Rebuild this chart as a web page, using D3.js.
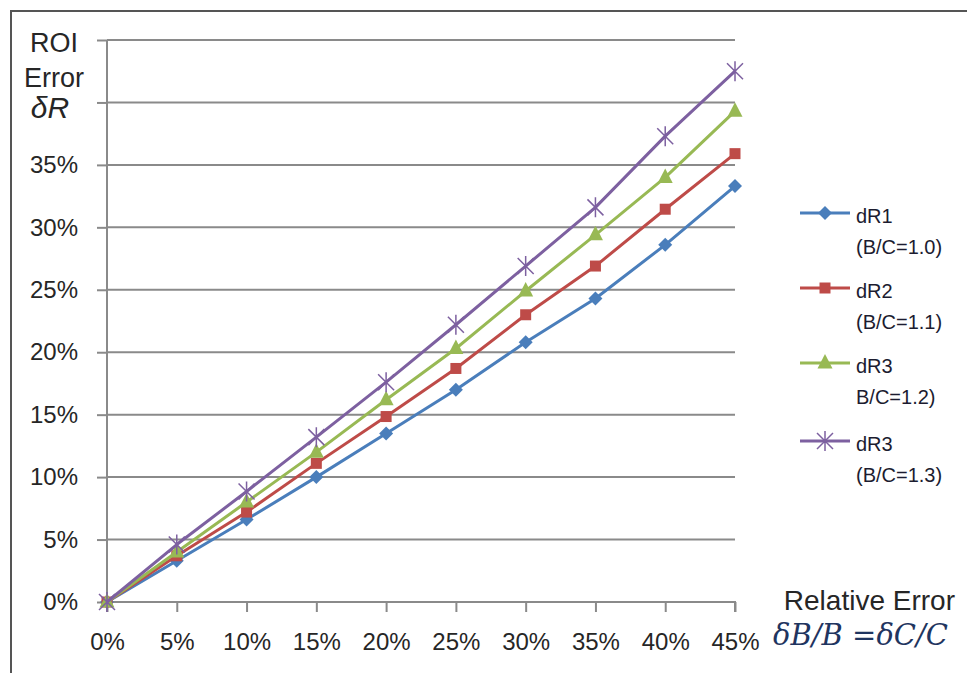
<!DOCTYPE html>
<html>
<head>
<meta charset="utf-8">
<script src="https://cdn.jsdelivr.net/npm/d3@7"></script>
<style>
  html, body { margin: 0; padding: 0; background: #fff; }
  svg { display: block; }
</style>
</head>
<body>
<svg id="chart" width="967" height="673"></svg>
<script>
// ---- data (percent) ----
const xValues = [0, 5, 10, 15, 20, 25, 30, 35, 40, 45];
const dR1 = [0, 3.3, 6.6, 10.0, 13.5, 17.0, 20.8, 24.3, 28.6, 33.3];
const dR2 = [0, 3.7, 7.2, 11.1, 14.85, 18.7, 23.0, 26.9, 31.45, 35.9];
const dR3 = [0, 4.0, 8.0, 12.0, 16.2, 20.3, 24.9, 29.4, 34.0, 39.3];
const dR4 = [0, 4.6, 8.85, 13.2, 17.6, 22.2, 26.9, 31.6, 37.3, 42.5];
const seriesNames = ["dR1", "dR2", "dR3", "dR3"];
const seriesSubs = ["(B/C=1.0)", "(B/C=1.1)", "B/C=1.2)", "(B/C=1.3)"];
const seriesColors = ["#4a7ebb", "#be4b48", "#98b954", "#7d60a0"];
const xTickLabels = ["0%", "5%", "10%", "15%", "20%", "25%", "30%", "35%", "40%", "45%"];
const yTickValues = [0, 5, 10, 15, 20, 25, 30, 35, 40, 45];
const yTickLabels = ["0%", "5%", "10%", "15%", "20%", "25%", "30%", "35%", "", ""];

const series = [dR1, dR2, dR3, dR4];

const svg = d3.select("#chart");

// frame
svg.append("path")
  .attr("d", "M11,673 L11,11 L967,11")
  .attr("fill", "none").attr("stroke", "#555").attr("stroke-width", 2);

const x = d3.scaleLinear().domain([0, 45]).range([107, 735]);
const y = d3.scaleLinear().domain([0, 45]).range([602, 40]);

const gridColor = "#8a8a8a";
const textColor = "#262626";

// gridlines
svg.append("g").selectAll("line").data(yTickValues).join("line")
  .attr("x1", x(0)).attr("x2", x(45))
  .attr("y1", d => y(d)).attr("y2", d => y(d))
  .attr("stroke", gridColor).attr("stroke-width", 2);

// y axis
const yAxis = svg.append("g").attr("transform", `translate(${x(0)},0)`)
  .call(d3.axisLeft(y).tickValues(yTickValues).tickSize(10).tickSizeOuter(0).tickPadding(19)
    .tickFormat((d, i) => yTickLabels[i]));
// x axis
const xAxis = svg.append("g").attr("transform", `translate(0,${y(0)})`)
  .call(d3.axisBottom(x).tickValues(xValues).tickSize(10).tickSizeOuter(0).tickPadding(21)
    .tickFormat((d, i) => xTickLabels[i]));

[yAxis, xAxis].forEach(g => {
  g.select(".domain").attr("stroke", gridColor).attr("stroke-width", 2);
  g.selectAll(".tick line").attr("stroke", gridColor).attr("stroke-width", 2);
  g.selectAll(".tick text").attr("fill", textColor)
    .style("font-family", "'Liberation Sans', Arial, sans-serif").style("font-size", "24px");
});
xAxis.select(".domain").attr("d", `M${x(0)},0H${x(45)}V10`);
yAxis.select(".domain").attr("d", `M0,${y(45)}V${y(0) + 10}`);

// marker shapes
const markerPaths = [
  "M0,-7L7,0L0,7L-7,0Z",
  "M-5.5,-5.5H5.5V5.5H-5.5Z",
  "M0,-9L7.5,5.5L-7.5,5.5Z",
  "M-8,-8L8,8M-8,8L8,-8M0,-10V10"
];

const line = d3.line().x((d, i) => x(xValues[i])).y(d => y(d));

series.forEach((vals, si) => {
  const col = seriesColors[si];
  svg.append("path").datum(vals)
    .attr("d", line).attr("fill", "none")
    .attr("stroke", col).attr("stroke-width", 3).attr("stroke-linejoin", "round");
  const g = svg.append("g");
  g.selectAll("path").data(vals).join("path")
    .attr("transform", (d, i) => `translate(${x(xValues[i])},${y(d)})`)
    .attr("d", markerPaths[si])
    .attr("fill", si === 3 ? "none" : col)
    .attr("stroke", col)
    .attr("stroke-width", si === 3 ? 1.5 : 0);
});

// y axis title
const yt = svg.append("g").attr("fill", textColor)
  .style("font-family", "'Liberation Sans', Arial, sans-serif").attr("text-anchor", "middle");
yt.append("text").attr("x", 54).attr("y", 52).style("font-size", "27px").text("ROI");
yt.append("text").attr("x", 54).attr("y", 87).style("font-size", "27px").text("Error");
yt.append("text").attr("x", 50).attr("y", 118).style("font-size", "30px").style("font-style", "italic").text("δR");

// x axis title
svg.append("text").attr("x", 955).attr("y", 610).attr("text-anchor", "end")
  .attr("fill", textColor)
  .style("font-family", "'Liberation Sans', Arial, sans-serif").style("font-size", "28px")
  .text("Relative Error");
svg.append("text").attr("x", 948).attr("y", 645).attr("text-anchor", "end")
  .attr("fill", "#1f3560")
  .style("font-family", "'DejaVu Serif', 'Liberation Serif', serif").style("font-size", "29px")
  .style("font-style", "italic")
  .text("δB/B =δC/C");

// legend
const legend = svg.append("g");
const legY = [213, 288, 363, 441];
series.forEach((vals, si) => {
  const col = seriesColors[si];
  const ly = legY[si];
  legend.append("line").attr("x1", 800).attr("x2", 850).attr("y1", ly).attr("y2", ly)
    .attr("stroke", col).attr("stroke-width", 3);
  legend.append("path").attr("transform", `translate(825,${ly})`)
    .attr("d", markerPaths[si])
    .attr("fill", si === 3 ? "none" : col).attr("stroke", col)
    .attr("stroke-width", si === 3 ? 1.5 : 0);
  legend.append("text").attr("x", 856).attr("y", ly + 10)
    .attr("fill", "#1c1c30")
    .style("font-family", "'Liberation Sans', Arial, sans-serif").style("font-size", "20px")
    .text(seriesNames[si]);
  legend.append("text").attr("x", 856).attr("y", ly + 41)
    .attr("fill", "#1c1c30")
    .style("font-family", "'Liberation Sans', Arial, sans-serif").style("font-size", "20px")
    .text(seriesSubs[si]);
});
</script>
</body>
</html>
